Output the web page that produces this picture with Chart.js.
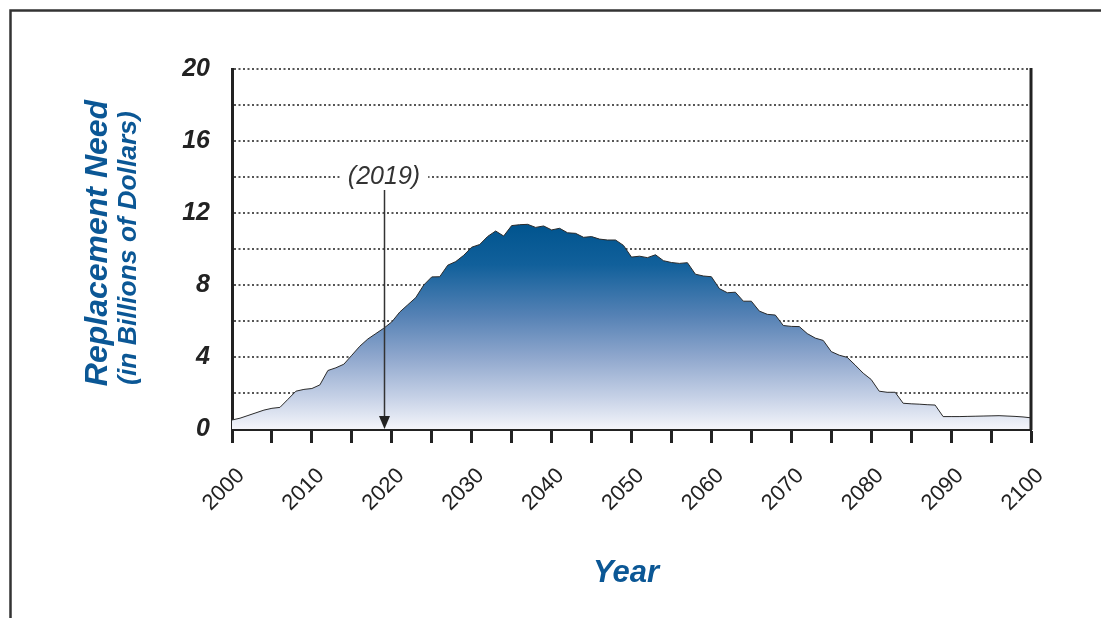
<!DOCTYPE html>
<html>
<head>
<meta charset="utf-8">
<title>Replacement Need</title>
<script src="https://cdn.jsdelivr.net/npm/chart.js@4.4.1/dist/chart.umd.min.js"></script>
<style>
  body { margin: 0; background: #fff; }
  #myChart { display: block; }
</style>
</head>
<body>
<canvas id="myChart" width="1101" height="618"></canvas>
<script>
//static data: replacement need per year (billions of dollars)
const years = [
    2000, 2001, 2002, 2003, 2004, 2005, 2006, 2007, 2008, 2009,
    2010, 2011, 2012, 2013, 2014, 2015, 2016, 2017, 2018, 2019,
    2020, 2021, 2022, 2023, 2024, 2025, 2026, 2027, 2028, 2029,
    2030, 2031, 2032, 2033, 2034, 2035, 2036, 2037, 2038, 2039,
    2040, 2041, 2042, 2043, 2044, 2045, 2046, 2047, 2048, 2049,
    2050, 2051, 2052, 2053, 2054, 2055, 2056, 2057, 2058, 2059,
    2060, 2061, 2062, 2063, 2064, 2065, 2066, 2067, 2068, 2069,
    2070, 2071, 2072, 2073, 2074, 2075, 2076, 2077, 2078, 2079,
    2080, 2081, 2082, 2083, 2084, 2085, 2086, 2087, 2088, 2089,
    2090, 2091, 2092, 2093, 2094, 2095, 2096, 2097, 2098, 2099,
    2100
];
const replacementNeed = [
    0.5, 0.6, 0.75, 0.9, 1.05, 1.15, 1.2, 1.65, 2.1, 2.2,
    2.25, 2.45, 3.25, 3.4, 3.6, 4.1, 4.6, 5.0, 5.3, 5.6,
    5.95, 6.5, 6.9, 7.3, 8.0, 8.45, 8.46, 9.1, 9.3, 9.65,
    10.1, 10.25, 10.7, 11.0, 10.72, 11.3, 11.35, 11.37, 11.2, 11.28,
    11.06, 11.15, 10.9, 10.87, 10.65, 10.69, 10.55, 10.5, 10.5, 10.2,
    9.55, 9.6, 9.52, 9.68, 9.35, 9.25, 9.2, 9.24, 8.6, 8.5,
    8.46, 7.8, 7.57, 7.6, 7.1, 7.1, 6.55, 6.37, 6.33, 5.75,
    5.7, 5.69, 5.3, 5.05, 4.92, 4.3, 4.1, 3.98, 3.55, 3.1,
    2.75, 2.1, 2.04, 2.04, 1.43, 1.4, 1.38, 1.35, 1.33, 0.69,
    0.69, 0.69, 0.7, 0.71, 0.72, 0.73, 0.74, 0.72, 0.7, 0.67,
    0.62
];
const markerYear = 2019;
const markerLabel = '(2019)';
const yTitle = 'Replacement Need';
const ySubTitle = '(in Billions of Dollars)';
const xTitle = 'Year';

const FONT = "'Liberation Sans', Arial, sans-serif";
const BLUE = '#0b5795';
const INK = '#222';

//gradient fill following the y scale
function areaFill(context)
{
    const chart = context.chart;
    const area = chart.chartArea;
    if (!area) return '#8ea6cc';
    const y = chart.scales.y;
    const top = y.getPixelForValue(11.4);
    const bottom = y.getPixelForValue(0);
    const g = chart.ctx.createLinearGradient(0, top, 0, bottom);
    g.addColorStop(0, '#00548e');
    g.addColorStop(0.2, '#11609b');
    g.addColorStop(0.45, '#5682b5');
    g.addColorStop(0.65, '#8fa7cd');
    g.addColorStop(0.85, '#c7d2e7');
    g.addColorStop(1, '#f4f5fa');
    return g;
}

//frame, right axis, titles and the 2019 marker
const decorations = {
    id: 'decorations',
    afterDatasetsDraw(chart) {
        const ctx = chart.ctx;
        const area = chart.chartArea;
        const xs = chart.scales.x;
        const ys = chart.scales.y;
        ctx.save();

        //right axis line
        ctx.strokeStyle = INK;
        ctx.lineWidth = 3;
        ctx.beginPath();
        ctx.moveTo(area.right, area.top - 1);
        ctx.lineTo(area.right, area.bottom + 1);
        ctx.stroke();

        //marker label with white box over the gridline
        const mx = Math.round(xs.getPixelForValue(markerYear));
        const my = ys.getPixelForValue(14);
        ctx.font = 'italic 25px ' + FONT;
        const w = ctx.measureText(markerLabel).width;
        ctx.fillStyle = '#fff';
        ctx.fillRect(mx - w / 2 - 8, my - 14, w + 16, 28);
        ctx.fillStyle = '#333';
        ctx.textAlign = 'center';
        ctx.textBaseline = 'middle';
        ctx.fillText(markerLabel, mx, my);

        //arrow down to the axis
        ctx.strokeStyle = '#333';
        ctx.lineWidth = 1.5;
        ctx.beginPath();
        ctx.moveTo(mx + 0.5, my + 13);
        ctx.lineTo(mx + 0.5, area.bottom - 10);
        ctx.stroke();
        ctx.fillStyle = '#222';
        ctx.beginPath();
        ctx.moveTo(mx + 0.5, area.bottom);
        ctx.lineTo(mx - 5, area.bottom - 13);
        ctx.lineTo(mx + 6, area.bottom - 13);
        ctx.closePath();
        ctx.fill();

        //y titles
        ctx.fillStyle = BLUE;
        ctx.save();
        ctx.translate(98, 243);
        ctx.rotate(-Math.PI / 2);
        ctx.font = 'italic bold 32px ' + FONT;
        ctx.fillText(yTitle, 0, 0);
        ctx.restore();
        ctx.save();
        ctx.translate(129, 248);
        ctx.rotate(-Math.PI / 2);
        ctx.font = 'italic bold 26.5px ' + FONT;
        ctx.fillText(ySubTitle, 0, 0);
        ctx.restore();

        //x title
        ctx.font = 'italic bold 31px ' + FONT;
        ctx.fillText(xTitle, 626, 573);

        //outer frame (top and left only)
        ctx.strokeStyle = '#333';
        ctx.lineWidth = 2.5;
        ctx.beginPath();
        ctx.moveTo(10.5, 618);
        ctx.lineTo(10.5, 10.5);
        ctx.lineTo(1101, 10.5);
        ctx.stroke();

        ctx.restore();
    }
};

const ctx = document.getElementById('myChart').getContext('2d');
const myChart = new Chart(ctx, {
    type: 'line',
    data: {
        datasets: [{
            data: years.map((yr, i) => ({x: yr, y: replacementNeed[i]})),
            borderColor: '#2a2a2a',
            borderWidth: 1,
            backgroundColor: areaFill,
            fill: 'origin',
            tension: 0,
            pointRadius: 0
        }]
    },
    options: {
        responsive: false,
        animation: false,
        layout: {
            padding: {left: 0, top: 69, right: 70, bottom: 0}
        },
        plugins: {
            legend: {display: false},
            tooltip: {enabled: false}
        },
        scales: {
            x: {
                type: 'linear',
                min: 2000,
                max: 2100,
                afterFit: (scale) => { scale.height = 189; },
                grid: {
                    drawOnChartArea: false,
                    drawTicks: true,
                    tickLength: 14,
                    tickWidth: 3,
                    tickColor: INK
                },
                border: {display: true, width: 3, color: INK},
                ticks: {
                    stepSize: 5,
                    autoSkip: false,
                    minRotation: 45,
                    maxRotation: 45,
                    padding: 20,
                    labelOffset: 9,
                    color: INK,
                    font: {family: FONT, size: 22},
                    callback: (v) => (v % 10 === 0 ? String(v) : '')
                }
            },
            y: {
                min: 0,
                max: 20,
                afterFit: (scale) => { scale.width = 232; },
                grid: {
                    drawTicks: false,
                    lineWidth: 2,
                    color: (c) => (c.tick && c.tick.value === 0 ? 'rgba(0,0,0,0)' : '#555')
                },
                border: {display: true, width: 3, color: INK, dash: [2, 2.5]},
                ticks: {
                    stepSize: 2,
                    padding: 22,
                    color: INK,
                    font: {family: FONT, size: 25, style: 'italic', weight: 'bold'},
                    callback: (v) => (v % 4 === 0 ? String(v) : '')
                }
            }
        }
    },
    plugins: [decorations]
});
</script>
</body>
</html>
